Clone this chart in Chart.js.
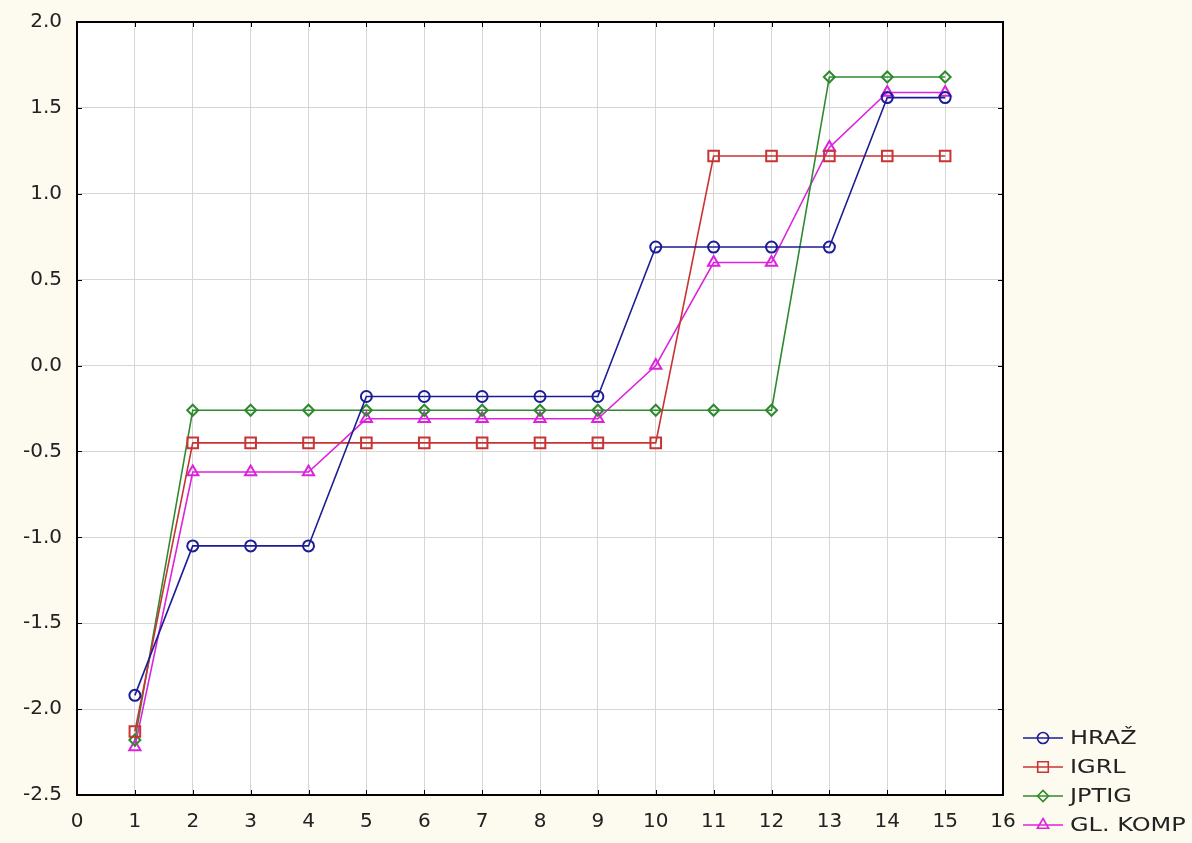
<!DOCTYPE html>
<html>
<head>
<meta charset="utf-8">
<script src="https://cdn.jsdelivr.net/npm/chart.js@4.4.0/dist/chart.umd.min.js"></script>
<style>
  html, body { margin: 0; padding: 0; background: #fdfaf0; }
  #chart { display: block; }
</style>
</head>
<body>
<canvas id="chart" width="1192" height="843"></canvas>
<script>
// x positions 1..15
const steps = [1, 2, 3, 4, 5, 6, 7, 8, 9, 10, 11, 12, 13, 14, 15];

const hraz = [-1.92, -1.05, -1.05, -1.05, -0.18, -0.18, -0.18, -0.18, -0.18, 0.69, 0.69, 0.69, 0.69, 1.56, 1.56];
const igrl = [-2.13, -0.45, -0.45, -0.45, -0.45, -0.45, -0.45, -0.45, -0.45, -0.45, 1.22, 1.22, 1.22, 1.22, 1.22];
const jptig = [-2.18, -0.26, -0.26, -0.26, -0.26, -0.26, -0.26, -0.26, -0.26, -0.26, -0.26, -0.26, 1.68, 1.68, 1.68];
const glKomp = [-2.22, -0.62, -0.62, -0.62, -0.31, -0.31, -0.31, -0.31, -0.31, 0.0, 0.60, 0.60, 1.27, 1.59, 1.59];

const seriesNames = ['HRAŽ', 'IGRL', 'JPTIG', 'GL. KOMP'];

const FONT = '"DejaVu Sans", "Liberation Sans", Arial, sans-serif';

function toPoints(values) {
    return steps.map((x, i) => ({ x: x, y: values[i] }));
}

function makeSet(label, values, color, style, radius) {
    return {
        label: label,
        data: toPoints(values),
        borderColor: color,
        backgroundColor: 'rgba(255,255,255,0)',
        borderWidth: 1.6,
        pointStyle: style,
        pointRadius: radius,
        pointBorderWidth: 2,
        pointBorderColor: color,
        pointBackgroundColor: 'rgba(255,255,255,0)',
        tension: 0
    };
}

// cream page, white plot area
const backdrop = {
    id: 'backdrop',
    beforeDraw(chart) {
        const { ctx, chartArea: a } = chart;
        ctx.save();
        ctx.fillStyle = '#fdfaf0';
        ctx.fillRect(0, 0, chart.width, chart.height);
        ctx.fillStyle = '#ffffff';
        ctx.fillRect(a.left, a.top, a.right - a.left, a.bottom - a.top);
        ctx.restore();
    }
};

// black frame + small inward ticks
const frame = {
    id: 'frame',
    afterDatasetsDraw(chart) {
        const { ctx, chartArea: a, scales } = chart;
        ctx.save();
        ctx.strokeStyle = '#000';
        ctx.lineWidth = 1;
        ctx.beginPath();
        scales.x.ticks.forEach(t => {
            const px = Math.round(scales.x.getPixelForValue(t.value)) + 0.5;
            ctx.moveTo(px, a.top); ctx.lineTo(px, a.top + 5);
            ctx.moveTo(px, a.bottom); ctx.lineTo(px, a.bottom - 5);
        });
        scales.y.ticks.forEach(t => {
            const py = Math.round(scales.y.getPixelForValue(t.value)) + 0.5;
            ctx.moveTo(a.left, py); ctx.lineTo(a.left + 5, py);
            ctx.moveTo(a.right, py); ctx.lineTo(a.right - 5, py);
        });
        ctx.stroke();
        ctx.lineWidth = 2;
        ctx.strokeRect(a.left, a.top, a.right - a.left, a.bottom - a.top);
        ctx.restore();
    }
};

// legend bottom right, outside plot
const sideLegend = {
    id: 'sideLegend',
    afterDraw(chart) {
        const ctx = chart.ctx;
        const x0 = 1023, x1 = 1063, tx = 1070;
        const yStart = 738, gap = 29;
        ctx.save();
        ctx.textBaseline = 'middle';
        chart.data.datasets.forEach((ds, i) => {
            const y = yStart + i * gap;
            ctx.strokeStyle = ds.borderColor;
            ctx.lineWidth = 1.6;
            ctx.beginPath();
            ctx.moveTo(x0, y); ctx.lineTo(x1, y);
            ctx.stroke();
            ctx.fillStyle = 'rgba(255,255,255,0)';
            Chart.helpers.drawPoint(ctx, {
                pointStyle: ds.pointStyle,
                radius: ds.pointRadius,
                borderWidth: 2,
                rotation: 0
            }, (x0 + x1) / 2, y);
            // text in the source is a bit stretched sideways
            ctx.save();
            ctx.translate(tx, y + 1);
            ctx.scale(1.2, 1);
            ctx.font = '20px ' + FONT;
            ctx.fillStyle = '#222';
            ctx.fillText(ds.label, 0, 0);
            ctx.restore();
        });
        ctx.restore();
    }
};

new Chart(document.getElementById('chart'), {
    type: 'line',
    data: {
        datasets: [
            makeSet(seriesNames[0], hraz, '#1c1c96', 'circle', 5.5),
            makeSet(seriesNames[1], igrl, '#c83434', 'rect', 7.5),
            makeSet(seriesNames[2], jptig, '#2f8a2f', 'rectRot', 5.5),
            makeSet(seriesNames[3], glKomp, '#dd22dd', 'triangle', 6.5)
        ]
    },
    options: {
        responsive: false,
        animation: false,
        layout: { padding: { top: 22, right: 189, left: 0, bottom: 0 } },
        plugins: {
            legend: { display: false },
            tooltip: { enabled: false }
        },
        scales: {
            x: {
                type: 'linear',
                min: 0,
                max: 16,
                ticks: {
                    stepSize: 1,
                    padding: 15,
                    color: '#222',
                    font: { family: FONT, size: 20 },
                    callback: v => String(v)
                },
                grid: { color: '#d6d6d6', lineWidth: 1, drawTicks: false },
                border: { display: false },
                afterFit(scale) {
                    scale.height = 48;
                    scale.paddingLeft = 0;
                    scale.paddingRight = 0;
                }
            },
            y: {
                min: -2.5,
                max: 2.0,
                ticks: {
                    stepSize: 0.5,
                    padding: 15,
                    color: '#222',
                    font: { family: FONT, size: 20 },
                    callback: v => Number(v).toFixed(1)
                },
                grid: { color: '#d6d6d6', lineWidth: 1, drawTicks: false },
                border: { display: false },
                afterFit(scale) {
                    scale.width = 77;
                    scale.paddingTop = 0;
                    scale.paddingBottom = 0;
                }
            }
        }
    },
    plugins: [backdrop, frame, sideLegend]
});
</script>
</body>
</html>
